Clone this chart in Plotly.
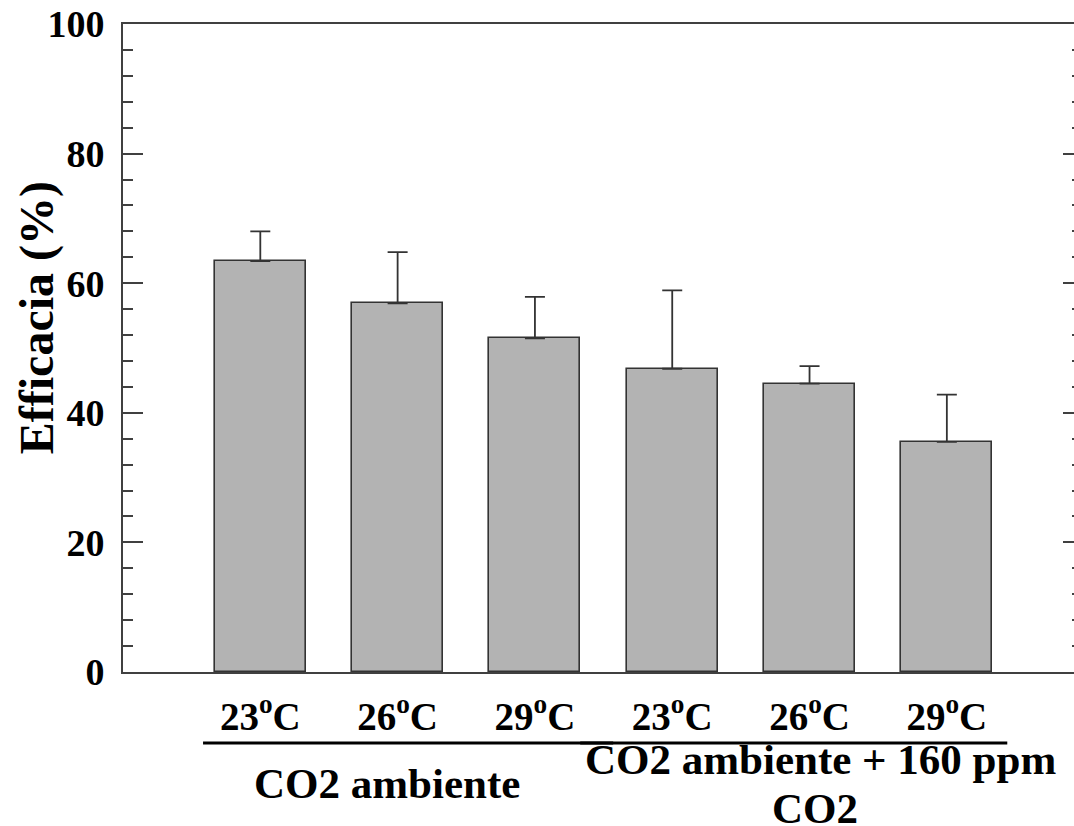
import plotly.graph_objects as go

# ---- data ----
positions = [0, 1, 2, 3, 4, 5]
temp_labels = ["23<sup>o</sup>C", "26<sup>o</sup>C", "29<sup>o</sup>C",
               "23<sup>o</sup>C", "26<sup>o</sup>C", "29<sup>o</sup>C"]
efficacy = [63.4, 56.9, 51.5, 46.8, 44.5, 35.5]
err_up = [4.6, 7.9, 6.4, 12.1, 2.7, 7.3]
err_down = [0, 0, 0, 0, 0, 0]
group_labels = ["CO2 ambiente", "CO2 ambiente + 160 ppm", "CO2"]
y_ticks = [0, 20, 40, 60, 80, 100]

FONT = "Liberation Serif"
AX = "#404040"

fig = go.Figure()
fig.add_trace(go.Bar(
    x=positions, y=efficacy, width=0.663,
    marker=dict(color="#b3b3b3", line=dict(color="#333333", width=1.6)),
    error_y=dict(type="data", symmetric=False, array=err_up, arrayminus=err_down,
                 color="#333333", thickness=1.8, width=10),
    showlegend=False, hoverinfo="y",
))
# dummy trace to activate right axis
fig.add_trace(go.Scatter(x=[positions[0]], y=[efficacy[0]], yaxis="y2",
                         mode="markers", marker=dict(opacity=0), showlegend=False,
                         hoverinfo="skip"))

fig.update_layout(
    width=1074, height=826,
    margin=dict(l=123, r=0, t=24, b=154),
    paper_bgcolor="white", plot_bgcolor="white",
    font=dict(family=FONT, color="black"),
    bargap=0,
    xaxis=dict(
        range=[-1, 5.926], tickmode="array", tickvals=positions, ticktext=temp_labels,
        showline=True, linecolor=AX, linewidth=2, mirror=True, ticks="",
        showgrid=False, zeroline=False,
        tickfont=dict(family=FONT, size=39, color="black", weight="bold"),
        ticklabelstandoff=9,
    ),
    yaxis=dict(
        range=[0, 100], tickvals=y_ticks, showline=True, linecolor=AX, linewidth=2,
        ticks="inside", ticklen=20, tickwidth=2, tickcolor=AX,
        minor=dict(dtick=4, ticks="inside", ticklen=10, tickwidth=2, tickcolor=AX),
        showgrid=False, zeroline=False,
        tickfont=dict(family=FONT, size=38, color="black", weight="bold"),
        ticklabelstandoff=9,
    ),
    yaxis2=dict(
        range=[0, 100], overlaying="y", side="right", tickvals=y_ticks,
        showticklabels=False, showline=False, showgrid=False, zeroline=False,
        ticks="inside", ticklen=11, tickwidth=2, tickcolor=AX,
        minor=dict(dtick=4, ticks="inside", ticklen=2, tickwidth=2, tickcolor=AX),
    ),
)

# y title
fig.add_annotation(text="<b>Efficacia (%)</b>", xref="paper", yref="paper",
                   x=-0.0904, y=0.546, textangle=-90, showarrow=False,
                   font=dict(family=FONT, size=48, color="black"),
                   xanchor="center", yanchor="middle")

# group lines
fig.add_shape(type="line", xref="x", yref="paper", x0=-0.417, x1=2.57,
              y0=-0.1096, y1=-0.1096, line=dict(color="black", width=3))
fig.add_shape(type="line", xref="x", yref="paper", x0=2.33, x1=5.44,
              y0=-0.1096, y1=-0.1096, line=dict(color="black", width=3))

# group labels
fig.add_annotation(text="<b>" + group_labels[0] + "</b>", xref="x", yref="paper",
                   x=0.919, y=-0.172, showarrow=False,
                   font=dict(family=FONT, size=43, color="black"),
                   xanchor="center", yanchor="middle")
fig.add_annotation(text="<b>" + group_labels[1] + "</b>", xref="x", yref="paper",
                   x=4.08, y=-0.135, showarrow=False,
                   font=dict(family=FONT, size=43, color="black"),
                   xanchor="center", yanchor="middle")
fig.add_annotation(text="<b>" + group_labels[2] + "</b>", xref="x", yref="paper",
                   x=4.04, y=-0.211, showarrow=False,
                   font=dict(family=FONT, size=43, color="black"),
                   xanchor="center", yanchor="middle")

fig.write_html("out.html")
